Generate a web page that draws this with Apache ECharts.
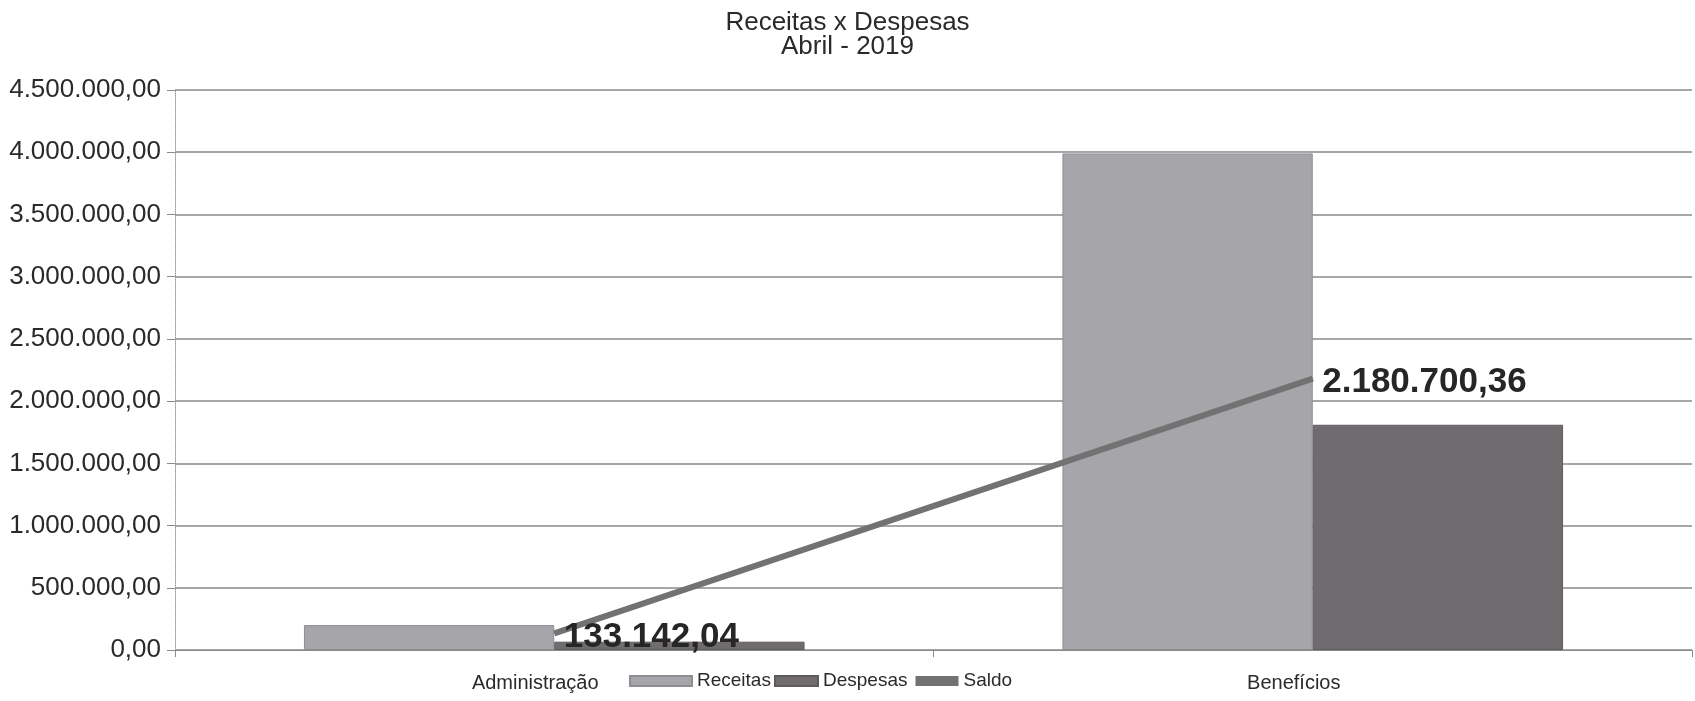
<!DOCTYPE html>
<html>
<head>
<meta charset="utf-8">
<script src="https://cdn.jsdelivr.net/npm/echarts@6/dist/echarts.min.js"></script>
<style>
html,body{margin:0;padding:0;background:#fff;}
#chart{width:1695px;height:701px;}
</style>
</head>
<body>
<div id="chart"></div>
<script>
var categories = ['Administração', 'Benefícios'];
var receitas = [200000, 3990000];
var despesas = [67000, 1810000];
var saldo = [133142.04, 2180700.36];
var seriesNames = ['Receitas', 'Despesas', 'Saldo'];
var titleText = 'Receitas x Despesas\nAbril - 2019';

function fmtBR(v) {
  var neg = v < 0;
  v = Math.abs(v);
  var s = v.toFixed(2);
  var parts = s.split('.');
  var intPart = parts[0].replace(/\B(?=(\d{3})+(?!\d))/g, '.');
  return (neg ? '-' : '') + intPart + ',' + parts[1];
}

var FONT = '"Liberation Sans", Arial, sans-serif';
var legendText = {fontFamily: FONT, fontSize: 19, color: '#2a2a2a', lineHeight: 22};
var chart = echarts.init(document.getElementById('chart'), null, {renderer: 'canvas'});
chart.setOption({
  backgroundColor: '#ffffff',
  animation: false,
  textStyle: {fontFamily: FONT},
  title: {
    text: titleText,
    left: 'center',
    top: 6,
    textStyle: {fontFamily: FONT, fontSize: 26, fontWeight: 'normal', color: '#2a2a2a', lineHeight: 24, align: 'center'}
  },
  legend: [
    {
      data: [seriesNames[0]],
      left: 624,
      top: 665,
      icon: 'rect',
      itemWidth: 62,
      itemHeight: 10,
      textStyle: legendText
    },
    {
      data: [seriesNames[1], seriesNames[2]],
      left: 769,
      top: 665,
      icon: 'rect',
      itemWidth: 43,
      itemHeight: 10,
      itemGap: 8,
      textStyle: legendText
    }
  ],
  grid: {left: 175, right: 3, top: 90, bottom: 51, containLabel: false},
  xAxis: {
    type: 'category',
    data: categories,
    axisLine: {show: true, lineStyle: {color: '#8a8a8a', width: 1}},
    axisTick: {show: true, length: 7, lineStyle: {color: '#8a8a8a'}},
    axisLabel: {fontFamily: FONT, fontSize: 20, color: '#2a2a2a', margin: 23, padding: [0, 38, 0, 0]}
  },
  yAxis: {
    type: 'value',
    min: 0,
    max: 4500000,
    interval: 500000,
    axisLine: {show: true, lineStyle: {color: '#9a9a9a', width: 1, type: 'dotted'}},
    axisTick: {show: true, length: 8, lineStyle: {color: '#8a8a8a'}},
    axisLabel: {fontFamily: FONT, fontSize: 26, color: '#2a2a2a', margin: 14, formatter: function (v) { return fmtBR(v); }},
    splitLine: {show: true, lineStyle: {color: '#8a8a8a', width: 1.5}}
  },
  series: [
    {
      name: seriesNames[0],
      type: 'bar',
      data: receitas,
      barGap: '0%',
      barCategoryGap: '34%',
      itemStyle: {color: '#a6a5aa', borderColor: '#8e8d92', borderWidth: 1}
    },
    {
      name: seriesNames[1],
      type: 'bar',
      data: despesas,
      itemStyle: {color: '#6f6b6e', borderColor: '#5e5b5d', borderWidth: 1}
    },
    {
      name: seriesNames[2],
      type: 'line',
      data: saldo,
      z: 5,
      symbol: 'circle',
      symbolSize: 1,
      showSymbol: true,
      lineStyle: {color: '#727272', width: 6},
      itemStyle: {color: '#727272'},
      label: {
        show: true,
        position: 'right',
        distance: 9,
        offset: [0, 4],
        fontFamily: FONT,
        fontSize: 35,
        fontWeight: 'bold',
        color: '#262626',
        formatter: function (p) { return fmtBR(p.value); }
      }
    }
  ]
});
</script>
</body>
</html>
